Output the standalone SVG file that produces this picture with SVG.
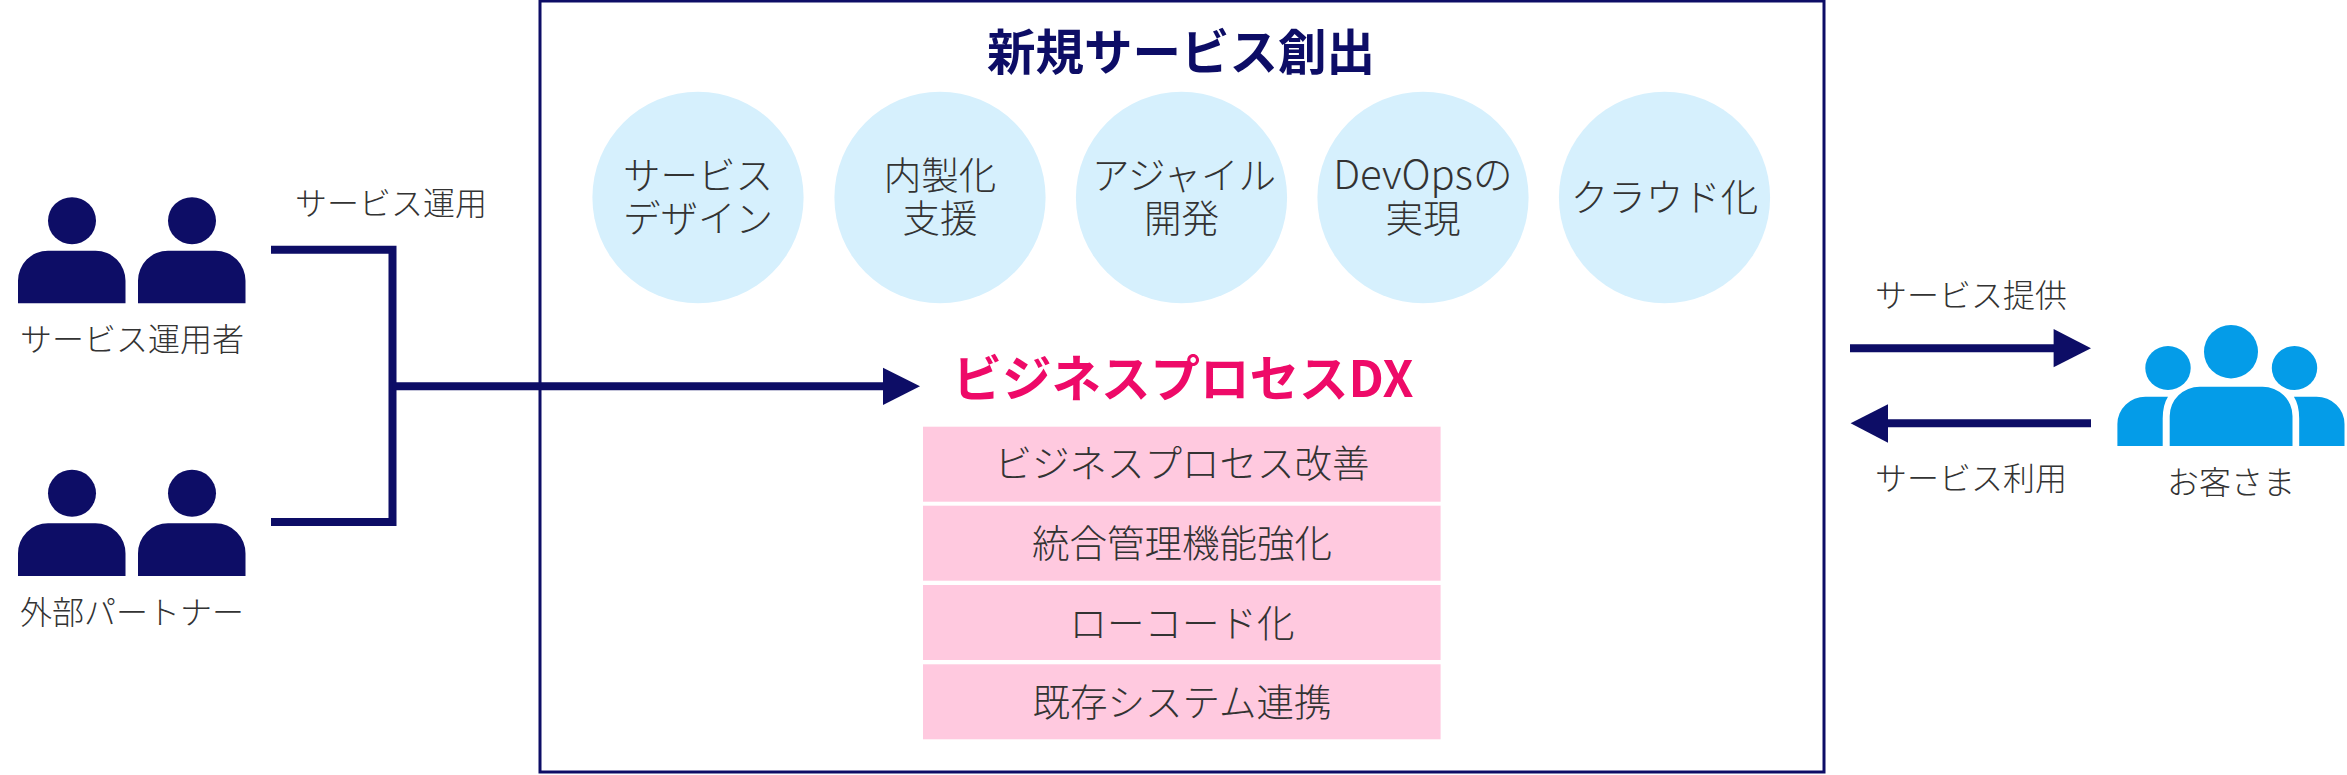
<svg xmlns="http://www.w3.org/2000/svg" width="2347" height="775" viewBox="0 0 2347 775">
<style>
text{font-family:"Noto Sans CJK JP","Noto Sans CJK SC",sans-serif;text-anchor:middle;fill:#333;font-weight:300}
.s32{font-size:32px}.s36{font-size:37.5px}
.h{font-size:48.5px;font-weight:700}
.navy{fill:#0d0d66}
.sky{fill:#049ce8}
.c{fill:#d6f0fd}
.p{fill:#ffc9df}
.ln{fill:none;stroke:#0d0d66;stroke-width:8}
</style>
<defs>
<g id="pair">
<ellipse cx="72" cy="220.7" rx="24" ry="23.5"/>
<ellipse cx="192" cy="220.7" rx="24" ry="23.5"/>
<path d="M18 303.3V281a30 30 0 0 1 30-30.3h47.5a30 30 0 0 1 30 30.3v22.3z"/>
<path d="M138 303.3V281a30 30 0 0 1 30-30.3h47.5a30 30 0 0 1 30 30.3v22.3z"/>
</g>
</defs>
<rect id="frame" x="540" y="1" width="1284" height="771" fill="#fff" stroke="#0d0d66" stroke-width="3"/>
<g id="connectors">
<path class="ln" d="M271 249.7H392.5V522H271"/>
<path class="ln" d="M392.5 386.3H890"/>
<polygon class="navy" points="883,367.7 920,386.3 883,405"/>
<path class="ln" d="M1850 348.3H2060"/>
<polygon class="navy" points="2053.6,329 2091,348.3 2053.6,367.3"/>
<path class="ln" d="M2091 423.3H1880"/>
<polygon class="navy" points="1888,404.3 1850.6,423.3 1888,442.7"/>
</g>
<g id="label-unyo"><text class="s32" x="391" y="215">サービス運用</text></g>
<g id="label-teikyo"><text class="s32" x="1971" y="307">サービス提供</text></g>
<g id="label-riyo"><text class="s32" x="1971" y="490">サービス利用</text></g>
<g id="operators"><use href="#pair" class="navy"/><text class="s32" x="132" y="351">サービス運用者</text></g>
<g id="partners"><use href="#pair" class="navy" y="272.6"/><text class="s32" x="132" y="624">外部パートナー</text></g>
<g id="customers">
<g class="sky">
<ellipse cx="2231" cy="351.7" rx="27" ry="26.7"/>
<ellipse cx="2168" cy="368" rx="22.7" ry="22"/>
<ellipse cx="2294.5" cy="368" rx="22.7" ry="22"/>
<path d="M2169.7 446V416a30 29.3 0 0 1 30-29.3h62.8a30 29.3 0 0 1 30 29.3v30z"/>
<path d="M2117.4 446V424a28 27.3 0 0 1 28-27.3h22.6q-5.3 8-5.3 22V446z"/>
<path d="M2344.5 446V424a28 27.3 0 0 0-28-27.3h-22.6q5.3 8 5.3 22V446z"/>
</g>
<text class="s32" x="2231" y="494">お客さま</text>
</g>
<g id="title"><text class="h" x="1181" y="70" style="fill:#0d0d66">新規サービス創出</text></g>
<g id="c1"><ellipse class="c" cx="698" cy="197.5" rx="105.6" ry="105.8"/><text class="s36" x="698" y="188.500">サービス<tspan x="698" y="231.500">デザイン</tspan></text></g>
<g id="c2"><ellipse class="c" cx="940" cy="197.5" rx="105.6" ry="105.8"/><text class="s36" x="940" y="188.500">内製化<tspan x="940" y="231.500">支援</tspan></text></g>
<g id="c3"><ellipse class="c" cx="1181.5" cy="197.5" rx="105.6" ry="105.8"/><text class="s36" x="1184" y="188.500">アジャイル<tspan x="1181.5" y="231.500">開発</tspan></text></g>
<g id="c4"><ellipse class="c" cx="1423" cy="197.5" rx="105.6" ry="105.8"/><text class="s36" x="1423" y="188.500" style="font-size:40px">DevOpsの<tspan x="1423" y="231.500" style="font-size:37.5px">実現</tspan></text></g>
<g id="c5"><ellipse class="c" cx="1664.5" cy="197.5" rx="105.6" ry="105.8"/><text class="s36" x="1664.5" y="211">クラウド化</text></g>
<g id="dx-title"><text class="h" x="1183" y="397" style="fill:#ee0a68;font-size:49.500px">ビジネスプロセスDX</text></g>
<g id="b1"><rect class="p" x="923" y="426.7" width="517.6" height="75"/><text class="s36" x="1182" y="476.500">ビジネスプロセス改善</text></g>
<g id="b2"><rect class="p" x="923" y="505.7" width="517.6" height="75"/><text class="s36" x="1182" y="556.500">統合管理機能強化</text></g>
<g id="b3"><rect class="p" x="923" y="585" width="517.6" height="75"/><text class="s36" x="1182" y="636.500">ローコード化</text></g>
<g id="b4"><rect class="p" x="923" y="664.3" width="517.6" height="75"/><text class="s36" x="1182" y="715.500">既存システム連携</text></g>
</svg>
